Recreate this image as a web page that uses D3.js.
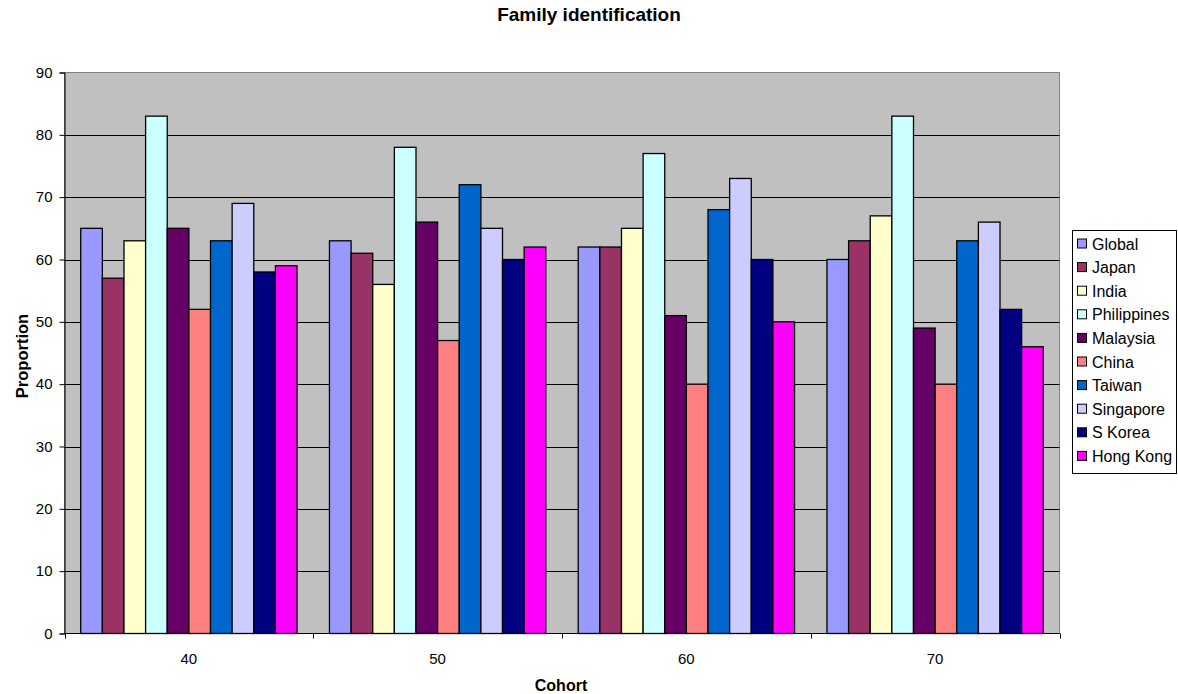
<!DOCTYPE html>
<html>
<head>
<meta charset="utf-8">
<script src="https://cdn.jsdelivr.net/npm/d3@7"></script>
<style>
  html, body { margin: 0; padding: 0; background: #fff; }
  svg { display: block; font-family: Arial, "Liberation Sans", sans-serif; }
</style>
</head>
<body>
<svg id="chart" width="1178" height="694"></svg>
<script>
// Cohorts along the x axis
const cohorts = ["40", "50", "60", "70"];
// Countries / series, in legend order
const seriesNames = ["Global", "Japan", "India", "Philippines", "Malaysia", "China", "Taiwan", "Singapore", "S Korea", "Hong Kong"];
const seriesColors = ["#9999FF", "#993366", "#FFFFCC", "#CCFFFF", "#660066", "#FF8080", "#0066CC", "#CCCCFF", "#000080", "#FF00FF"];
// Proportion values per series, one per cohort (40, 50, 60, 70)
const global      = [65, 63, 62, 60];
const japan       = [57, 61, 62, 63];
const india       = [63, 56, 65, 67];
const philippines = [83, 78, 77, 83];
const malaysia    = [65, 66, 51, 49];
const china       = [52, 47, 40, 40];
const taiwan      = [63, 72, 68, 63];
const singapore   = [69, 65, 73, 66];
const sKorea      = [58, 60, 60, 52];
const hongKong    = [59, 62, 50, 46];
const yTicks = [0, 10, 20, 30, 40, 50, 60, 70, 80, 90];

const seriesValues = [global, japan, india, philippines, malaysia, china, taiwan, singapore, sKorea, hongKong];

const FONT = "Arial, 'Liberation Sans', sans-serif";
const svg = d3.select("#chart");
const plot = { left: 64.5, right: 1059.5, top: 72.5, bottom: 633.5 };

const x0 = d3.scaleBand().domain(cohorts).range([plot.left, plot.right]).paddingInner(0);
// bars fill the middle of each band, leaving a gap of 1.5 bar widths per band
const barW = x0.bandwidth() / 11.5;
const x1 = d3.scaleBand().domain(seriesNames)
  .range([barW * 0.75, barW * 0.75 + barW * 10]);
const y = d3.scaleLinear().domain([0, 90]).range([plot.bottom, plot.top]);

// plot background
svg.append("rect")
  .attr("x", plot.left).attr("y", plot.top)
  .attr("width", plot.right - plot.left).attr("height", plot.bottom - plot.top)
  .attr("fill", "#C0C0C0").attr("stroke", "#808080").attr("stroke-width", 1);

// horizontal gridlines
svg.append("g").selectAll("line")
  .data(yTicks.filter(t => t > 0 && t < 90))
  .join("line")
  .attr("x1", plot.left).attr("x2", plot.right)
  .attr("y1", d => Math.round(y(d)) + 0.5).attr("y2", d => Math.round(y(d)) + 0.5)
  .attr("stroke", "#000").attr("stroke-width", 1);

// bars
const groups = svg.append("g").selectAll("g")
  .data(cohorts)
  .join("g")
  .attr("transform", d => `translate(${x0(d)},0)`);

groups.selectAll("rect")
  .data((c, ci) => seriesNames.map((s, si) => ({ s, si, v: seriesValues[si][ci] })))
  .join("rect")
  .attr("x", d => x1(d.s))
  .attr("y", d => y(d.v))
  .attr("width", x1.bandwidth())
  .attr("height", d => y(0) - y(d.v))
  .attr("fill", d => seriesColors[d.si])
  .attr("stroke", "#000").attr("stroke-width", 1.3);

// y axis
const yAxis = d3.axisLeft(y).tickValues(yTicks).tickSize(5).tickPadding(7);
const gy = svg.append("g").attr("transform", `translate(${plot.left},0)`).call(yAxis);
gy.select(".domain").attr("stroke", "#000");
gy.selectAll("text").attr("font-size", 15).attr("fill", "#000").attr("font-family", FONT);

// x axis: labels centred in bands, ticks at band boundaries
const gx = svg.append("g").attr("transform", `translate(0,${plot.bottom})`);
gx.append("line").attr("x1", plot.left).attr("x2", plot.right).attr("stroke", "#000");
const boundaries = cohorts.map(c => x0(c)).concat([x0(cohorts[cohorts.length - 1]) + x0.bandwidth()]);
gx.selectAll("line.tick").data(boundaries).join("line")
  .attr("class", "tick")
  .attr("x1", d => Math.round(d) + 0.5).attr("x2", d => Math.round(d) + 0.5)
  .attr("y1", 0).attr("y2", 5).attr("stroke", "#000");
gx.selectAll("text").data(cohorts).join("text")
  .attr("x", d => x0(d) + x0.bandwidth() / 2)
  .attr("y", 30)
  .attr("text-anchor", "middle")
  .attr("font-size", 15)
  .text(d => d);

// titles
svg.append("text").attr("x", 589).attr("y", 21).attr("text-anchor", "middle")
  .attr("font-size", 19).attr("font-weight", "bold").text("Family identification");
svg.append("text").attr("x", 561).attr("y", 691).attr("text-anchor", "middle")
  .attr("font-size", 16).attr("font-weight", "bold").text("Cohort");
svg.append("text").attr("transform", "translate(28,356) rotate(-90)").attr("text-anchor", "middle")
  .attr("font-size", 16.5).attr("font-weight", "bold").text("Proportion");

// legend
const legend = svg.append("g");
legend.append("rect").attr("x", 1072.5).attr("y", 230.5).attr("width", 104).attr("height", 243)
  .attr("fill", "#fff").attr("stroke", "#000");
const items = legend.selectAll("g.item").data(seriesNames).join("g")
  .attr("class", "item")
  .attr("transform", (d, i) => `translate(1077,${243.5 + i * 23.6})`);
items.append("rect").attr("x", 0.5).attr("y", -4.5).attr("width", 9).attr("height", 9)
  .attr("fill", (d, i) => seriesColors[i]).attr("stroke", "#000");
items.append("text").attr("x", 15).attr("y", 6).attr("font-size", 16).text(d => d);
</script>
</body>
</html>
